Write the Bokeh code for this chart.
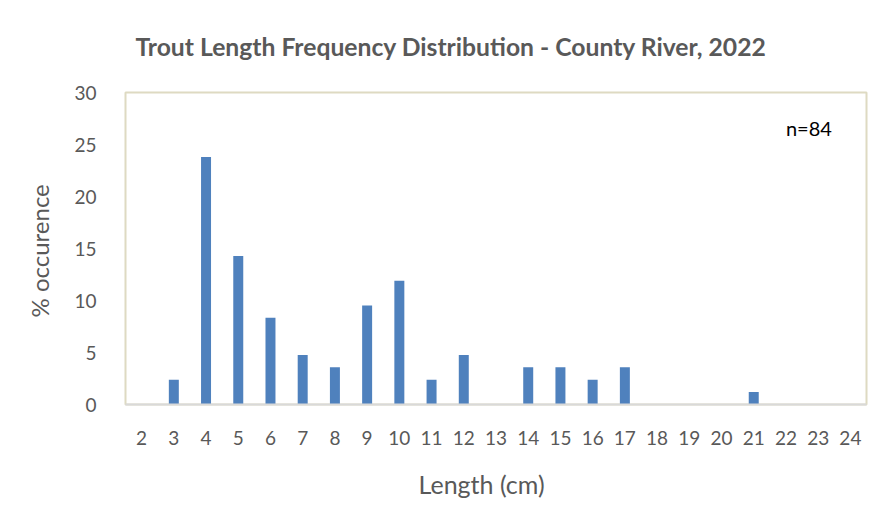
from bokeh.plotting import figure
from bokeh.models import Label, FactorRange, Range1d, Title
from bokeh.embed import file_html
from bokeh.resources import INLINE

lengths = [str(i) for i in range(2, 25)]
percent = [0, 2.38, 23.81, 14.29, 8.33, 4.76, 3.57, 9.52, 11.90, 2.38, 4.76, 0,
           3.57, 3.57, 2.38, 3.57, 0, 0, 0, 1.19, 0, 0, 0]
title_text = "Trout Length Frequency Distribution - County River, 2022"
x_label = "Length (cm)"
y_label = "% occurence"
n_text = "n=84"

FONT = "Lato"
GREY = "#595959"

p = figure(width=877, height=519, output_backend="svg", toolbar_location=None,
           x_range=FactorRange(factors=lengths, range_padding=0),
           y_range=Range1d(0, 30),
           min_border_left=125, min_border_right=11, min_border_top=92, min_border_bottom=115,
           title=title_text)

p.vbar(x=lengths, top=percent, width=0.31, color="#4f81bd", line_color=None)

p.title.align = "left"
p.title.vertical_align = "top"
p.title.text_font = FONT
p.title.text_font_size = "24.7px"
p.title.text_font_style = "bold"
p.title.text_color = GREY
p.title.offset = 10
p.title.standoff = 60

p.outline_line_color = "#dedac2"
p.outline_line_width = 2
p.xgrid.visible = False
p.ygrid.visible = False

p.yaxis.ticker = [0, 5, 10, 15, 20, 25, 30]
p.yaxis.axis_line_color = None
p.yaxis.major_tick_line_color = None
p.yaxis.minor_tick_line_color = None
p.yaxis.major_label_standoff = 23
p.yaxis.major_label_text_font = FONT
p.yaxis.major_label_text_font_size = "19px"
p.yaxis.major_label_text_color = GREY

p.xaxis.axis_line_color = "#d9d9d9"
p.xaxis.axis_line_width = 2
p.xaxis.major_tick_line_color = None
p.xaxis.minor_tick_line_color = None
p.xaxis.major_label_standoff = 20
p.xaxis.major_label_text_font = FONT
p.xaxis.major_label_text_font_size = "19px"
p.xaxis.major_label_text_color = GREY

p.add_layout(Title(text=y_label, align="left", offset=87, standoff=36,
                   text_font=FONT, text_font_size="24px", text_font_style="normal",
                   text_color=GREY), "left")
p.add_layout(Title(text=x_label, align="left", offset=293, standoff=38,
                   text_font=FONT, text_font_size="25px", text_font_style="normal",
                   text_color=GREY), "below")
p.add_layout(Label(x=20.5, y=26.6, text=n_text, text_font=FONT, text_font_size="20px",
                   text_color="black", text_baseline="middle", text_align="left"))

open("out.html", "w").write(file_html(p, INLINE))
